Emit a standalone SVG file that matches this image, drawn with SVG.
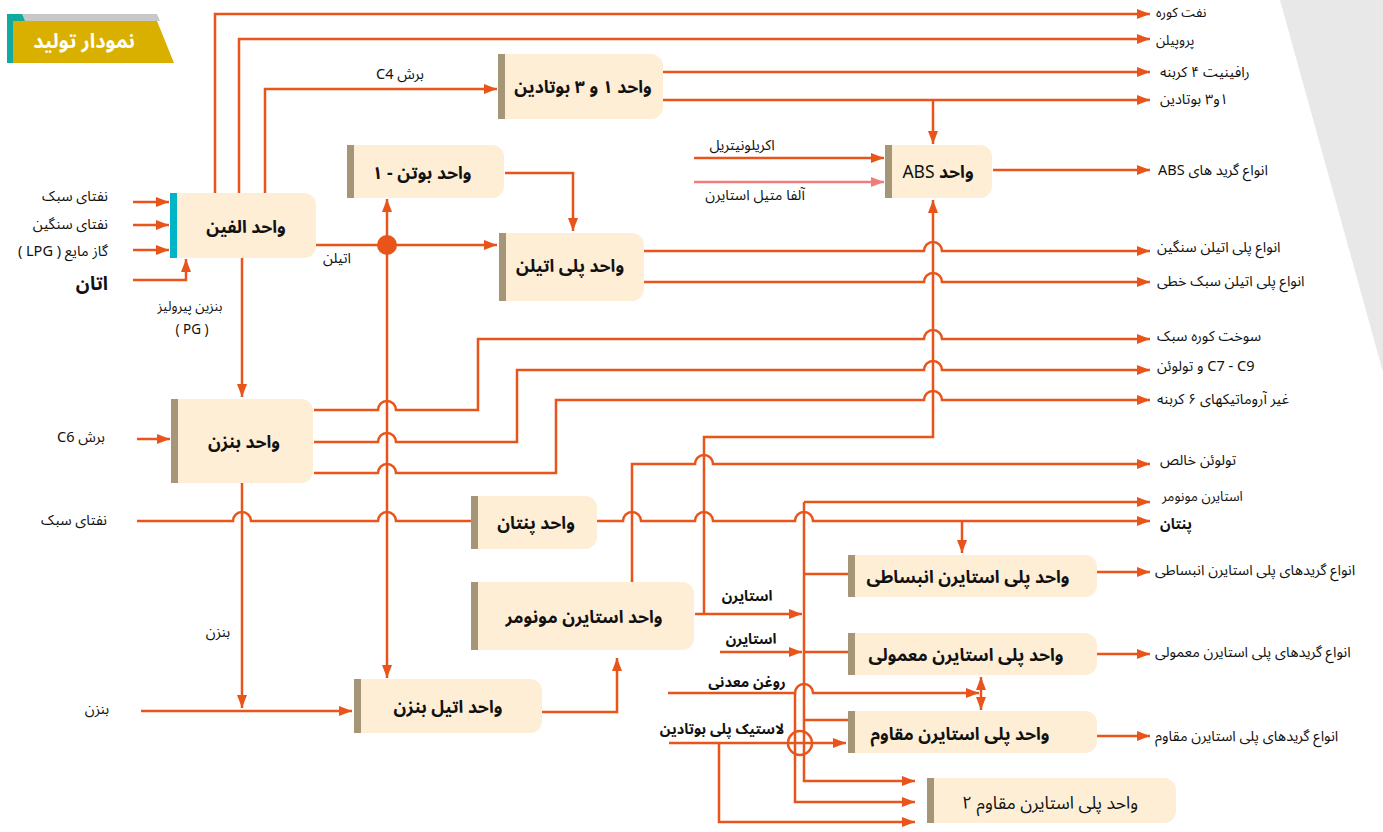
<svg xmlns="http://www.w3.org/2000/svg" width="1383" height="832" viewBox="0 0 1383 832">
<style>
.ln{fill:none;stroke:#e8541a;stroke-width:2.5}
.ar{marker-end:url(#ah)}
.box{fill:#fdeed5}
.bar{fill:#a59677}
.t{font-family:"Noto Sans Arabic","Vazirmatn","DejaVu Sans",sans-serif;font-size:14.5px;fill:#111;direction:rtl}
.sm{font-size:13.5px}
.n{font-size:17.5px;font-weight:bold}
.b{font-weight:bold}
.m{text-anchor:middle}
.s{text-anchor:start}
.e{text-anchor:end}
</style>
<defs>
<marker id="ah" viewBox="0 0 13 10" refX="13" refY="5" markerWidth="13" markerHeight="10" markerUnits="userSpaceOnUse" orient="auto-start-reverse"><path d="M0 0L13 5L0 10Z" fill="#e8541a"/></marker>
<marker id="ahp" viewBox="0 0 13 10" refX="13" refY="5" markerWidth="13" markerHeight="10" markerUnits="userSpaceOnUse" orient="auto"><path d="M0 0L13 5L0 10Z" fill="#f07c7c"/></marker>
</defs>
<rect width="1383" height="832" fill="#fff"/>
<polygon points="1280,0 1383,0 1383,372" fill="#e8e8e8"/>
<g id="title">
<polygon points="13,14 157,14 160,21 13,21" fill="#c8c8c8"/>
<polygon points="13,21 157,21 174,63 13,63" fill="#d9b000"/>
<rect x="7" y="14" width="6" height="49" fill="#12aaa0"/>
<polygon points="13,14 22,14 25,21 13,21" fill="#12aaa0"/>
<text class="t m b" x="84" y="48" style="fill:#fff;font-size:20px">نمودار تولید</text>
</g>
<g id="connectors">
<path class="ln ar" d="M215 193V14H1150"/>
<path class="ln ar" d="M239 193V39H1150"/>
<path class="ln ar" d="M265 193V89H497"/>
<path class="ln ar" d="M663 72H1150"/>
<path class="ln ar" d="M663 100H1150"/>
<path class="ln ar" d="M933 100V144"/>
<path class="ln ar" d="M694 158H884"/>
<path d="M694 182H884" fill="none" stroke="#f07c7c" stroke-width="2.5" marker-end="url(#ahp)"/>
<path class="ln ar" d="M993 170H1150"/>
<path class="ln ar" d="M133 202H169"/>
<path class="ln ar" d="M133 225H169"/>
<path class="ln ar" d="M133 250H169"/>
<path class="ln ar" d="M133 280H186V259"/>
<path class="ln ar" d="M316 245H497"/>
<path class="ln ar" d="M387 245V199"/>
<path class="ln ar" d="M387 245V678"/>
<path class="ln ar" d="M505 173H573V231"/>
<path class="ln ar" d="M644 251H924A9 9 0 0 1 942 251H1150"/>
<path class="ln ar" d="M644 282H924A9 9 0 0 1 942 282H1150"/>
<path class="ln ar" d="M314 410H378A9 9 0 0 1 396 410H478V339H924A9 9 0 0 1 942 339H1150"/>
<path class="ln ar" d="M314 442H378A9 9 0 0 1 396 442H517V370H924A9 9 0 0 1 942 370H1150"/>
<path class="ln ar" d="M314 473H378A9 9 0 0 1 396 473H556V400H924A9 9 0 0 1 942 400H1150"/>
<path class="ln ar" d="M242 258V397"/>
<path class="ln ar" d="M137 439H170"/>
<path class="ln" d="M137 521H233A9 9 0 0 1 251 521H378A9 9 0 0 1 396 521H471"/>
<path class="ln ar" d="M242 483V708"/>
<path class="ln ar" d="M141 711H352"/>
<path class="ln ar" d="M542 712H617V658"/>
<path class="ln ar" d="M597 521H623A9 9 0 0 1 641 521H695A9 9 0 0 1 713 521H795A9 9 0 0 1 813 521H1150"/>
<path class="ln ar" d="M962 521V553"/>
<path class="ln ar" d="M632 582V464H695A9 9 0 0 1 713 464H1150"/>
<path class="ln ar" d="M695 614H802"/>
<path class="ln ar" d="M704 614V437H933V200"/>
<path class="ln ar" d="M804 502H1150"/>
<path class="ln ar" d="M804 502V781H915"/>
<path class="ln" d="M804 574H848M804 652H848M804 720H848"/>
<path class="ln ar" d="M720 652H802"/>
<path class="ln ar" d="M668 693H795A9 9 0 0 1 813 693H979"/>
<path class="ln ar" d="M795 693V802H915"/>
<path class="ln ar" d="M981 677V710" marker-start="url(#ah)"/>
<path class="ln ar" d="M719 743V822H915"/>
<circle cx="800" cy="743" r="12" class="ln"/>
<path class="ln ar" d="M669 743H846"/>
<path class="ln ar" d="M1097 572H1150"/>
<path class="ln ar" d="M1097 654H1150"/>
<path class="ln ar" d="M1097 736H1150"/>
<circle cx="387" cy="245" r="10" fill="#e8541a"/>
</g>
<g id="olefin">
<path class="box" d="M170 193H304A12 12 0 0 1 316 205V246A12 12 0 0 1 304 258H170Z"/>
<rect x="170" y="193" width="7" height="65" fill="#00b4c8"/>
<text class="t n m" x="246" y="233">واحد الفین</text>
</g>
<g id="butadiene">
<path class="box" d="M498 54H651A12 12 0 0 1 663 66V107A12 12 0 0 1 651 119H498Z"/>
<rect class="bar" x="498" y="54" width="7" height="65"/>
<text class="t n m" x="583" y="93">واحد ۱ و ۳ بوتادین</text>
</g>
<g id="butene">
<path class="box" d="M347 145H492A12 12 0 0 1 504 157V186A12 12 0 0 1 492 198H347Z"/>
<rect class="bar" x="347" y="145" width="7" height="53"/>
<text class="t n m" x="422" y="179">واحد بوتن - ۱</text>
</g>
<g id="polyethylene">
<path class="box" d="M499 233H632A12 12 0 0 1 644 245V289A12 12 0 0 1 632 301H499Z"/>
<rect class="bar" x="499" y="233" width="7" height="68"/>
<text class="t n m" x="570" y="272">واحد پلی اتیلن</text>
</g>
<g id="abs">
<path class="box" d="M885 145H980A12 12 0 0 1 992 157V186A12 12 0 0 1 980 198H885Z"/>
<rect class="bar" x="885" y="145" width="7" height="53"/>
<text class="t n m" x="938" y="178">واحد <tspan font-weight="normal">ABS</tspan></text>
</g>
<g id="benzene">
<path class="box" d="M171 399H301A12 12 0 0 1 313 411V471A12 12 0 0 1 301 483H171Z"/>
<rect class="bar" x="171" y="399" width="7" height="84"/>
<text class="t n m" x="244" y="448">واحد بنزن</text>
</g>
<g id="pentane">
<path class="box" d="M471 496H585A12 12 0 0 1 597 508V537A12 12 0 0 1 585 549H471Z"/>
<rect class="bar" x="471" y="496" width="7" height="53"/>
<text class="t n m" x="536" y="529">واحد پنتان</text>
</g>
<g id="styrene">
<path class="box" d="M471 582H682A12 12 0 0 1 694 594V638A12 12 0 0 1 682 650H471Z"/>
<rect class="bar" x="471" y="582" width="7" height="68"/>
<text class="t n m" x="584" y="623">واحد استایرن مونومر</text>
</g>
<g id="ethylbenzene">
<path class="box" d="M354 679H530A12 12 0 0 1 542 691V721A12 12 0 0 1 530 733H354Z"/>
<rect class="bar" x="354" y="679" width="7" height="54"/>
<text class="t n m" x="448" y="713">واحد اتیل بنزن</text>
</g>
<g id="eps">
<path class="box" d="M848 555H1085A12 12 0 0 1 1097 567V585A12 12 0 0 1 1085 597H848Z"/>
<rect class="bar" x="848" y="555" width="7" height="42"/>
<text class="t n m" x="968" y="583">واحد  پلی استایرن انبساطی</text>
</g>
<g id="gpps">
<path class="box" d="M848 633H1085A12 12 0 0 1 1097 645V663A12 12 0 0 1 1085 675H848Z"/>
<rect class="bar" x="848" y="633" width="7" height="42"/>
<text class="t n m" x="966" y="661">واحد  پلی استایرن معمولی</text>
</g>
<g id="hips">
<path class="box" d="M848 711H1085A12 12 0 0 1 1097 723V741A12 12 0 0 1 1085 753H848Z"/>
<rect class="bar" x="848" y="711" width="7" height="42"/>
<text class="t n m" x="960" y="740">واحد  پلی استایرن مقاوم</text>
</g>
<g id="hips2">
<path class="box" d="M927 778H1164A12 12 0 0 1 1176 790V811A12 12 0 0 1 1164 823H927Z"/>
<rect class="bar" x="927" y="778" width="7" height="45"/>
<text class="t m" x="1050" y="809" style="font-size:17.5px">واحد پلی استایرن مقاوم ۲</text>
</g>
<g id="labels">
<text class="t e sm" x="1156" y="17">نفت کوره</text>
<text class="t e sm" x="1156" y="45">پروپیلن</text>
<text class="t e" x="1160" y="77">رافینیت ۴ کربنه</text>
<text class="t e" x="1160" y="104">۱و۳ بوتادین</text>
<text class="t e" x="1158" y="175">انواع گرید های  ABS</text>
<text class="t e" x="1157" y="252">انواع پلی اتیلن سنگین</text>
<text class="t e" x="1157" y="286">انواع پلی اتیلن سبک خطی</text>
<text class="t e" x="1157" y="341">سوخت کوره سبک</text>
<text class="t e" x="1157" y="371">C7 - C9 و تولوئن</text>
<text class="t e" x="1157" y="404">غیر آروماتیکهای ۶ کربنه</text>
<text class="t e" x="1160" y="465">تولوئن خالص</text>
<text class="t e sm" x="1162" y="501">استایرن مونومر</text>
<text class="t e b" x="1160" y="529">پنتان</text>
<text class="t e" x="1155" y="575">انواع گریدهای پلی استایرن انبساطی</text>
<text class="t e" x="1155" y="657">انواع گریدهای پلی استایرن معمولی</text>
<text class="t e" x="1155" y="741">انواع گریدهای پلی استایرن مقاوم</text>
<text class="t s" x="108" y="201">نفتای سبک</text>
<text class="t s" x="108" y="229">نفتای سنگین</text>
<text class="t s" x="108" y="256">گاز مایع ( LPG )</text>
<text class="t s b" x="108" y="290" style="font-size:19px">اتان</text>
<text class="t m sm" x="190" y="311">بنزین پیرولیز</text>
<text class="t m sm" x="192" y="334">( PG )</text>
<text class="t m" x="337" y="263">اتیلن</text>
<text class="t m" x="400" y="79">برش C4</text>
<text class="t m" x="81" y="442">برش C6</text>
<text class="t s" x="107" y="525">نفتای سبک</text>
<text class="t m" x="218" y="637">بنزن</text>
<text class="t m" x="97" y="714">بنزن</text>
<text class="t m" x="742" y="150">اکریلونیتریل</text>
<text class="t m" x="755" y="200">آلفا متیل استایرن</text>
<text class="t m b" x="747" y="601">استایرن</text>
<text class="t m b" x="751" y="644">استایرن</text>
<text class="t m b" x="747" y="687">روغن معدنی</text>
<text class="t m b" x="722" y="734">لاستیک پلی بوتادین</text>
</g>
</svg>
